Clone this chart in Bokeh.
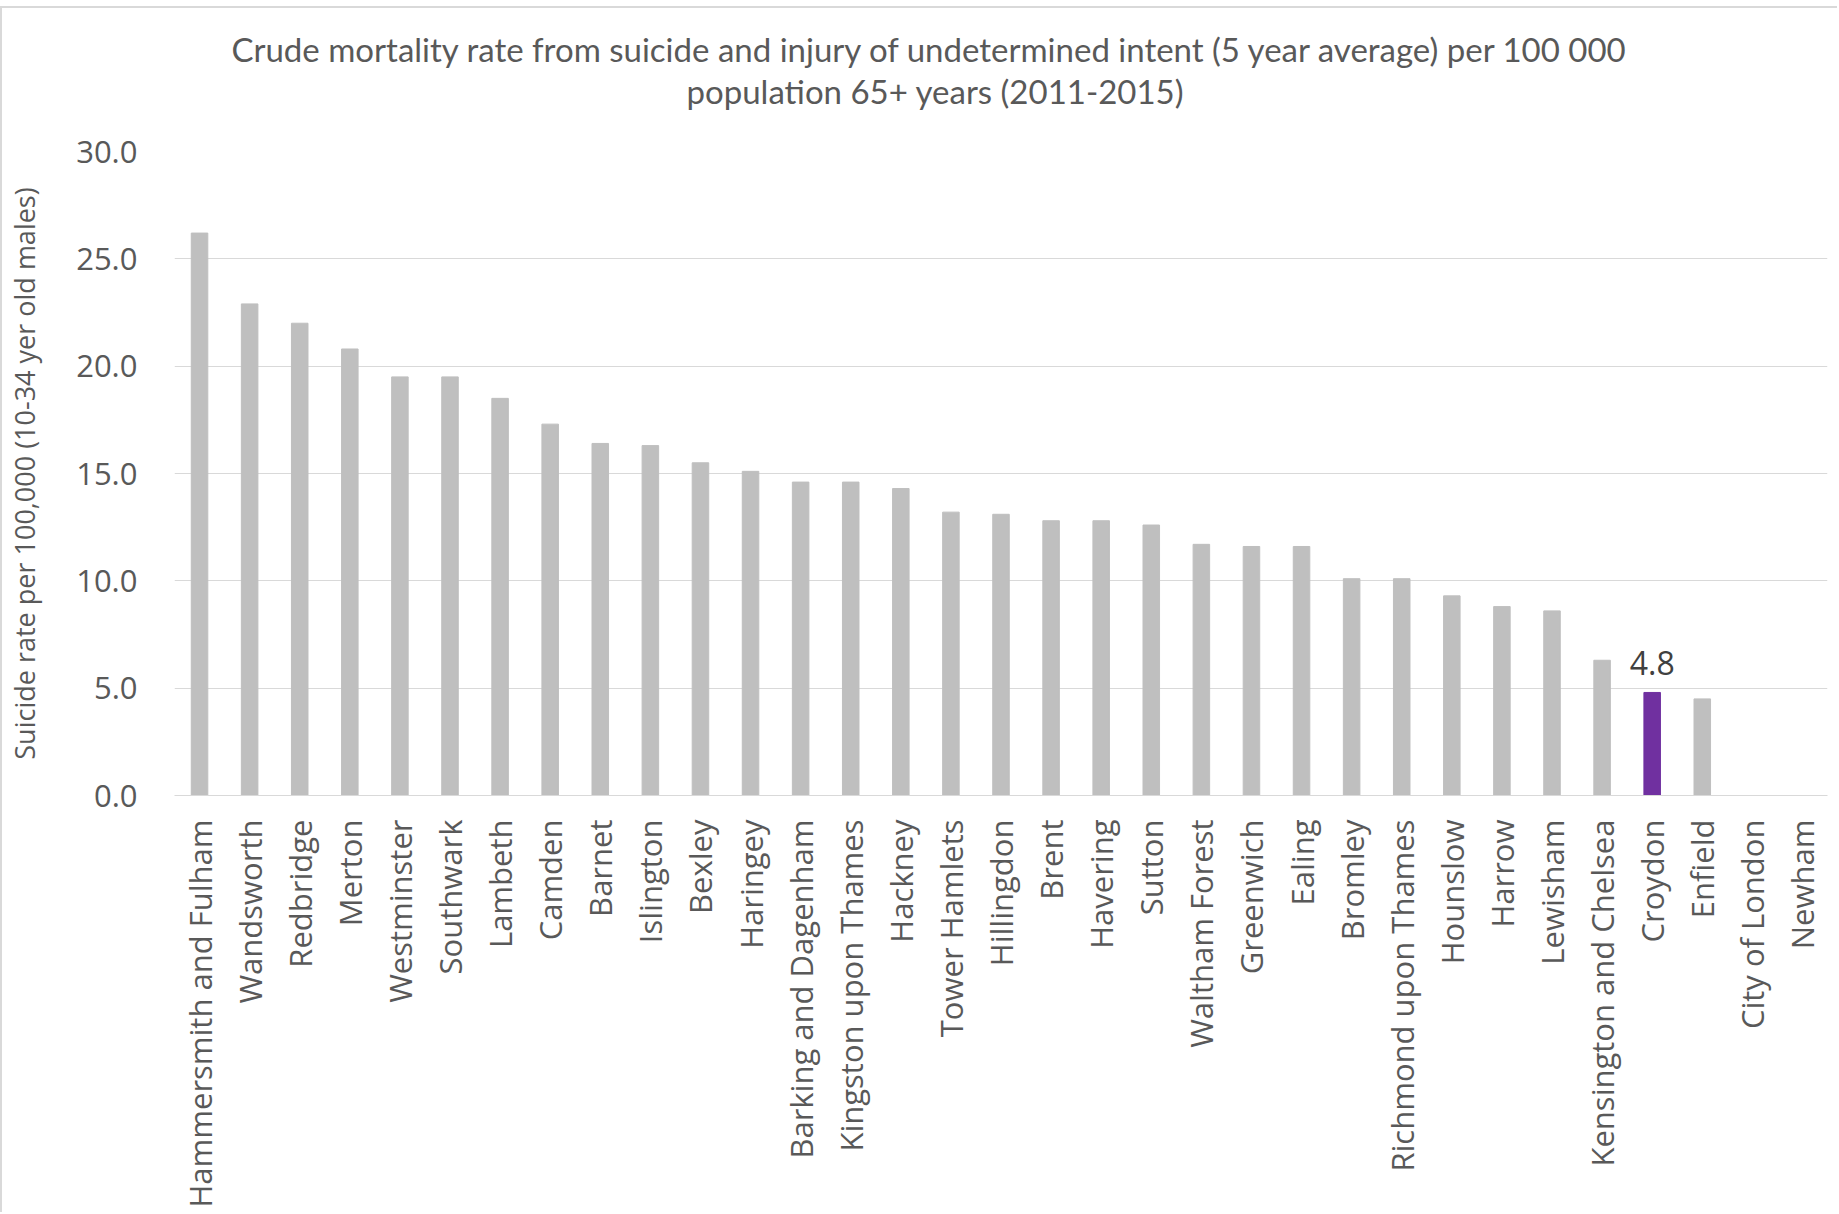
import math
from bokeh.plotting import figure
from bokeh.models import ColumnDataSource, Title, FixedTicker, NumeralTickFormatter
from bokeh.core.properties import value
from bokeh.embed import file_html
from bokeh.resources import INLINE

boroughs = [
    "Hammersmith and Fulham", "Wandsworth", "Redbridge", "Merton", "Westminster",
    "Southwark", "Lambeth", "Camden", "Barnet", "Islington", "Bexley", "Haringey",
    "Barking and Dagenham", "Kingston upon Thames", "Hackney", "Tower Hamlets",
    "Hillingdon", "Brent", "Havering", "Sutton", "Waltham Forest", "Greenwich",
    "Ealing", "Bromley", "Richmond upon Thames", "Hounslow", "Harrow", "Lewisham",
    "Kensington and Chelsea", "Croydon", "Enfield", "City of London", "Newham",
]
rates = [
    26.2, 22.9, 22.0, 20.8, 19.5,
    19.5, 18.5, 17.3, 16.4, 16.3, 15.5, 15.1,
    14.6, 14.6, 14.3, 13.2,
    13.1, 12.8, 12.8, 12.6, 11.7, 11.6,
    11.6, 10.1, 10.1, 9.3, 8.8, 8.6,
    6.3, 4.8, 4.5, 0.0, 0.0,
]
highlight = "Croydon"
y_ticks = [0, 5, 10, 15, 20, 25, 30]

title_line1 = "Crude mortality rate from suicide and injury of undetermined intent (5 year average) per 100 000"
title_line2 = "population 65+ years (2011-2015)"
y_label = "Suicide rate per 100,000 (10-34 yer old males)"

GRAY_BAR = "#BFBFBF"
PURPLE = "#7030A0"
TEXT = "#595959"
GRID = "#D9D9D9"

colors = [PURPLE if b == highlight else GRAY_BAR for b in boroughs]
src = ColumnDataSource(dict(borough=boroughs, rate=rates, color=colors))

p = figure(
    x_range=boroughs, y_range=(0, 30),
    width=1837, height=1206,
    output_backend="svg", toolbar_location=None,
    title=None,
    min_border_left=172, min_border_right=12,
    min_border_top=143, min_border_bottom=419,
)
p.styles = {
    "border-top": "2px solid #D9D9D9",
    "border-left": "2px solid #D9D9D9",
    "margin-top": "6px",
}
p.background_fill_color = "white"
p.border_fill_color = "white"
p.outline_line_color = None

p.vbar(x="borough", top="rate", width=0.33, color="color", source=src)

hi = boroughs.index(highlight)
lab_src = ColumnDataSource(dict(borough=[highlight], rate=[rates[hi]], text=[f"{rates[hi]:.1f}"]))
p.text(x="borough", y="rate", text="text", source=lab_src,
       text_align="center", text_baseline="bottom", y_offset=-17,
       text_font=value("Open Sans"), text_font_size="32px", text_color="#404040")

# grid
p.xgrid.visible = False
p.ygrid.grid_line_color = GRID
p.ygrid.grid_line_width = 1

# y axis
p.yaxis.ticker = FixedTicker(ticks=y_ticks)
p.yaxis.formatter = NumeralTickFormatter(format="0.0")
p.yaxis.axis_line_color = None
p.yaxis.major_tick_line_color = None
p.yaxis.minor_tick_line_color = None
p.yaxis.major_label_standoff = 31
p.yaxis.major_label_text_font = "Open Sans"
p.yaxis.major_label_text_font_size = "31px"
p.yaxis.major_label_text_color = TEXT
p.yaxis.axis_label = y_label
p.yaxis.axis_label_text_font = "Open Sans"
p.yaxis.axis_label_text_font_size = "27px"
p.yaxis.axis_label_text_font_style = "normal"
p.yaxis.axis_label_text_color = TEXT
p.yaxis.axis_label_standoff = 30

# x axis
p.xaxis.axis_line_color = GRID
p.xaxis.axis_line_width = 1
p.xaxis.major_tick_line_color = None
p.xaxis.minor_tick_line_color = None
p.xaxis.major_tick_out = 0
p.xaxis.major_label_orientation = math.pi / 2
p.xaxis.major_label_standoff = 24
p.xaxis.major_label_text_font = "Open Sans"
p.xaxis.major_label_text_font_size = "31px"
p.xaxis.major_label_text_color = TEXT

# titles (spacer first, closest to the frame)
t0 = Title(text=" ", standoff=28, text_font_size="10px")
t2 = Title(text=title_line2, align="left", offset=512, standoff=0,
           text_font="Lato", text_font_size="33px", text_font_style="normal", text_color=TEXT)
t1 = Title(text=title_line1, align="left", offset=57, standoff=0,
           text_font="Lato", text_font_size="33px", text_font_style="normal", text_color=TEXT)
p.add_layout(t0, "above")
p.add_layout(t2, "above")
p.add_layout(t1, "above")

open("out.html", "w").write(file_html(p, INLINE))
